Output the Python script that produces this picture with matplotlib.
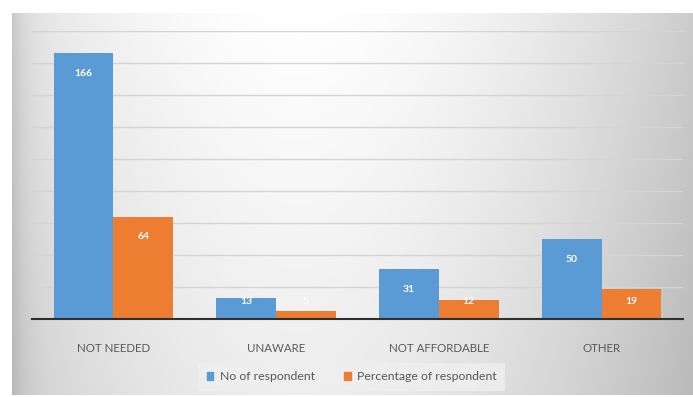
import numpy as np
import matplotlib
matplotlib.use("Agg")
import matplotlib.pyplot as plt
from matplotlib.patches import Patch

categories = ["NOT NEEDED", "UNAWARE", "NOT AFFORDABLE", "OTHER"]
respondents = [166, 13, 31, 50]
percentages = [64, 5, 12, 19]
series_names = ["No of respondent", "Percentage of respondent"]

BLUE = "#5B9BD5"
ORANGE = "#ED7D31"
TEXT = "#595959"

plt.rcParams["font.family"] = ["Lato", "DejaVu Sans"]

W, H = 693, 397
fig = plt.figure(figsize=(W / 100, H / 100), dpi=100)
fig.patch.set_facecolor("white")

# soft grey gradient behind the chart area
bg = fig.add_axes([12 / W, 2 / H, (W - 12) / W, (395 - 13) / H])
bg.set_axis_off()
xx, yy = np.meshgrid(np.linspace(0, 1, 400), np.linspace(0, 1, 240))
dx = np.abs(xx - 0.42) / 0.58
shade = 1.0 - 0.20 * dx ** 1.8 - 0.07 * yy
shade -= 0.10 * np.exp(-xx / 0.02)
shade = np.clip(shade, 0, 1)
bg.imshow(np.dstack([shade] * 3), aspect="auto", extent=[0, 1, 1, 0],
          interpolation="bilinear")
bg.set_xlim(0, 1)
bg.set_ylim(1, 0)

ax = fig.add_axes([32 / W, 78 / H, 651 / W, 288 / H])
ax.set_facecolor("none")

x = np.arange(len(categories))
w = 0.367
b1 = ax.bar(x - w / 2, respondents, w, color=BLUE, zorder=3)
b2 = ax.bar(x + w / 2, percentages, w, color=ORANGE, zorder=3)

for bars, vals in ((b1, respondents), (b2, percentages)):
    for bar, v in zip(bars, vals):
        cx = bar.get_x() + bar.get_width() / 2
        ax.text(cx, max(v - 12.5, 11), str(v), ha="center", va="center",
                color="white", fontsize=7.5, fontweight="bold", zorder=4)

ax.set_xlim(-0.5, len(categories) - 0.5)
ax.set_ylim(0, 180)
ax.set_yticks(np.arange(0, 181, 20))
ax.yaxis.grid(True, color="#d4d4d4", linewidth=1.0, zorder=0)
ax.tick_params(axis="y", left=False, labelleft=False)
ax.tick_params(axis="x", bottom=False, pad=14, labelsize=8.3, labelcolor=TEXT)
ax.set_xticks(x)
ax.set_xticklabels(categories)
for s in ("top", "right", "left"):
    ax.spines[s].set_visible(False)
ax.spines["bottom"].set_color("#303030")
ax.spines["bottom"].set_linewidth(1.5)
ax.spines["bottom"].set_zorder(5)

handles = [Patch(color=BLUE), Patch(color=ORANGE)]
leg = fig.legend(handles, series_names, loc="center",
                 bbox_to_anchor=(351.5 / W, 1 - 377 / H), ncol=2,
                 fontsize=8.8, frameon=True, handlelength=0.55,
                 handleheight=0.55, handletextpad=0.5, columnspacing=2.4,
                 borderpad=0.7, borderaxespad=0, fancybox=False)
leg.get_frame().set_facecolor("#efefef")
leg.get_frame().set_edgecolor("none")
for t in leg.get_texts():
    t.set_color(TEXT)

fig.savefig("out.png", dpi=100)
